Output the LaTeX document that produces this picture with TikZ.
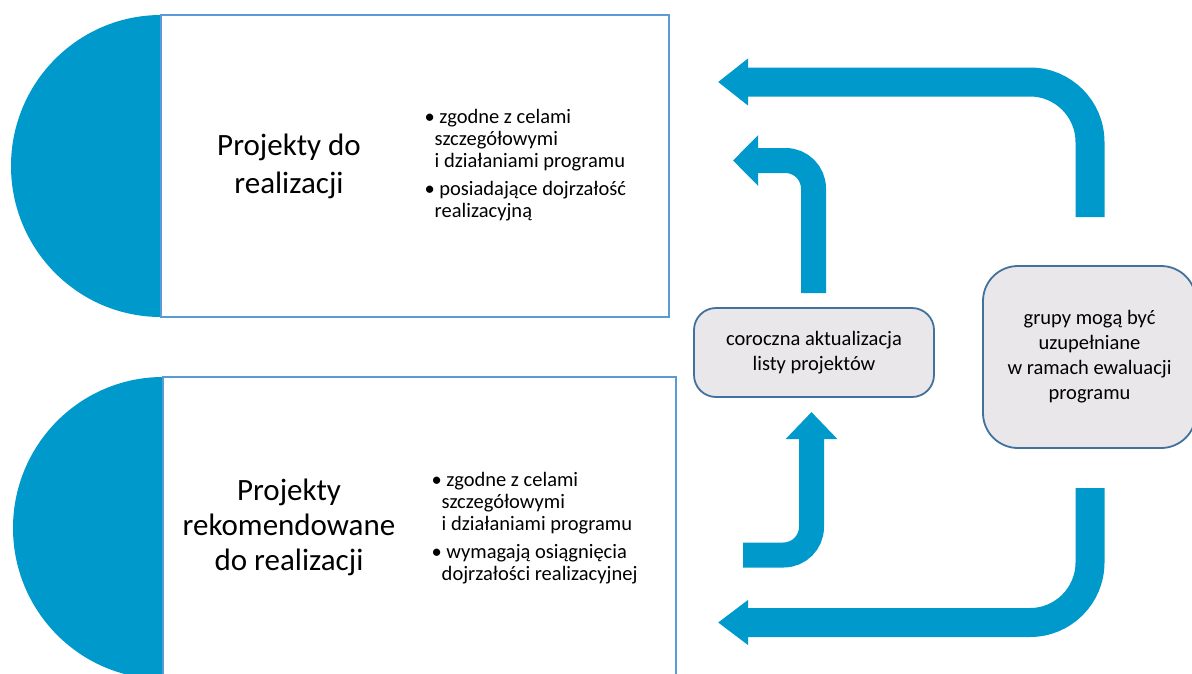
\documentclass[tikz,border=0pt]{standalone}
\usepackage{fontspec}
\setmainfont{Carlito}
\usetikzlibrary{arrows.meta}
\definecolor{flowblue}{HTML}{0099CC}
\definecolor{frameblue}{HTML}{5B9BD5}
\definecolor{notefill}{HTML}{E9E7EA}
\definecolor{noteline}{HTML}{41719C}
\begin{document}
\begin{tikzpicture}[x=1pt,y=-1pt,
    bigarrow/.style={draw=flowblue, line width=29pt, rounded corners=60pt, -{Triangle[length=30pt,width=45pt]}},
    smallarrow/.style={draw=flowblue, line width=25pt, rounded corners=28pt, -{Triangle[length=25pt,width=49pt]}},
    title/.style={align=center, font=\fontsize{31}{38}\selectfont},
    bullets/.style={align=left, anchor=west, font=\fontsize{20.5}{22}\selectfont},
    note/.style={draw=noteline, fill=notefill, line width=1.8pt, align=center, font=\fontsize{20.5}{25}\selectfont}]

        \clip (0,0) rectangle (1192,673);

        \fill[flowblue] (161,317) arc[start angle=90, end angle=270, x radius=150, y radius=151];
        \fill[flowblue] (163,679) arc[start angle=90, end angle=270, x radius=150, y radius=151];

        \begin{scope}[every node/.style={draw=frameblue, line width=1.5pt, minimum height=302pt, inner sep=0pt}]
          \node[minimum width=508pt] (top) at (415,166) {};
          \node[minimum width=513pt] (bot) at (419.5,528) {};
        \end{scope}

        \node[title] (t1) at (289,166) {Projekty do\\realizacji};
        \node[title, font=\fontsize{31}{35}\selectfont] (t2) at (289,527) {Projekty\\rekomendowane\\do realizacji};

        \node[bullets] (b1) at (421,165) {\textbullet\ zgodne z celami\\
          \phantom{\textbullet}szczegółowymi\\
          \phantom{\textbullet}i działaniami programu\\[6pt]
          \textbullet\ posiadające dojrzałość\\
          \phantom{\textbullet}realizacyjną};
        \node[bullets] (b2) at (428,528) {\textbullet\ zgodne z celami\\
          \phantom{\textbullet}szczegółowymi\\
          \phantom{\textbullet}i działaniami programu\\[6pt]
          \textbullet\ wymagają osiągnięcia\\
          \phantom{\textbullet}dojrzałości realizacyjnej};

        \node[note, rounded corners=22pt, minimum width=240pt, minimum height=89pt] (upd) at (814,352.5) {coroczna aktualizacja\\listy projektów};
        \node[note, rounded corners=35pt, minimum width=213pt, minimum height=182pt] (grp) at (1089.5,357) {grupy mogą być\\uzupełniane\\w ramach ewaluacji\\programu};

        \coordinate (s1) at (1090,217);
        \coordinate (e1) at (718,82);
        \coordinate (s2) at (813.5,293);
        \coordinate (e2) at (733,160.5);
        \coordinate (s3) at (743,555);
        \coordinate (e3) at (811.5,412);
        \coordinate (s4) at (1090,488);
        \coordinate (e4) at (718,622.5);

        \draw[bigarrow] (s1) |- (e1);
        \draw[smallarrow] (s2) |- (e2);
        \draw[smallarrow, -{Triangle[length=27pt,width=50pt]}] (s3) -| (e3);
        \draw[bigarrow, -{Triangle[length=30pt,width=43pt]}] (s4) |- (e4);

      \end{tikzpicture}
\end{document}
